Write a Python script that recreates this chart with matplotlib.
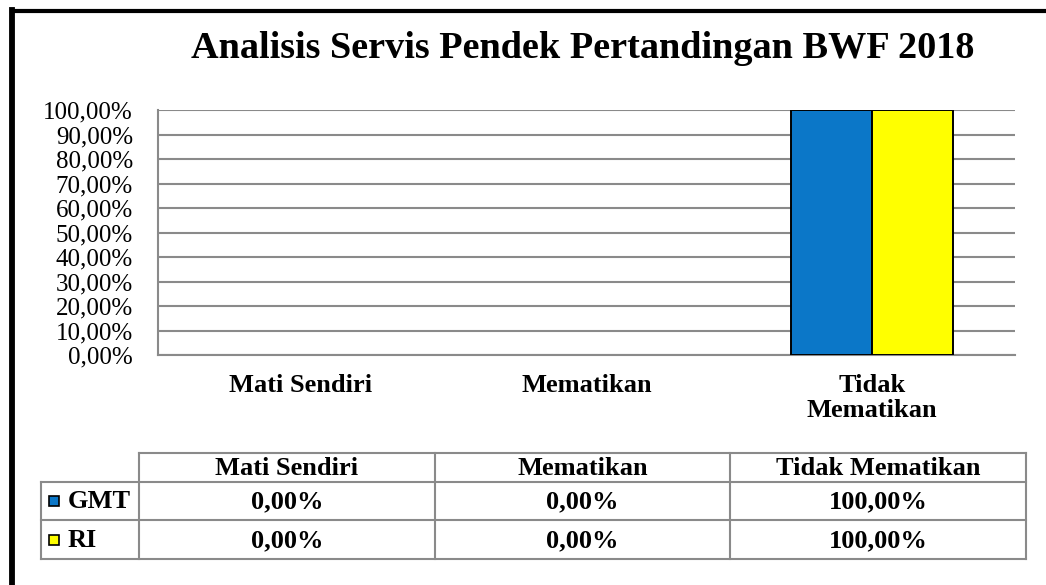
import matplotlib
matplotlib.use("Agg")
import matplotlib.pyplot as plt
from matplotlib.lines import Line2D
from matplotlib.patches import Rectangle
from matplotlib.ticker import FuncFormatter

# data
categories = ["Mati Sendiri", "Mematikan", "Tidak Mematikan"]
tick_labels = ["Mati Sendiri", "Mematikan", "Tidak\nMematikan"]
series = ["GMT", "RI"]
gmt = [0.0, 0.0, 1.0]
ri = [0.0, 0.0, 1.0]
colors = ["#0B77C8", "#FFFF00"]
title = "Analisis Servis Pendek Pertandingan BWF 2018"

plt.rcParams["font.family"] = ["Liberation Serif", "DejaVu Serif"]

W, H = 1046, 585
fig = plt.figure(figsize=(W / 100, H / 100), dpi=100)


def fx(px):
    return px / W


def fy(py):
    return 1 - py / H


def pct(v):
    return f"{v * 100:.2f}%".replace(".", ",")


# plot area in pixel layout
left, right, top, bottom = 158, 1015, 110, 355
ax = fig.add_axes([fx(left), fy(bottom), fx(right - left), (bottom - top) / H])

x = range(len(categories))
bw = 0.284
for i, (vals, c) in enumerate(zip([gmt, ri], colors)):
    # zero-height bars get no outline so they don't leave a line on the axis
    ax.bar([k + (i - 0.5) * bw for k in x], vals, width=bw, color=c,
           edgecolor="black", linewidth=[1.4 if v > 0 else 0 for v in vals], zorder=3)

ax.set_xlim(-0.5, 2.5)
ax.set_ylim(0, 1.0)
ax.set_yticks([i / 10 for i in range(11)])
ax.yaxis.set_major_formatter(FuncFormatter(lambda v, p: pct(v)))
ax.grid(axis="y", color="#8a8a8a", linewidth=1.5, zorder=0)
ax.set_axisbelow(True)
for s in ["top", "right"]:
    ax.spines[s].set_visible(False)
for s in ["left", "bottom"]:
    ax.spines[s].set_color("#8a8a8a")
    ax.spines[s].set_linewidth(1.5)
ax.tick_params(axis="y", length=0, pad=18, labelsize=18)
ax.tick_params(axis="x", length=0, pad=14)
ax.set_xticks(list(x))
ax.set_xticklabels(tick_labels, fontsize=19, fontweight="bold", linespacing=1.1)

fig.text(fx(583), fy(58), title, ha="center", va="baseline",
         fontsize=27.5, fontweight="bold")

# black frame on top and left
fig.add_artist(Line2D([fx(12), fx(12)], [0, fy(10)], color="black", lw=4.2,
                      solid_capstyle="projecting"))
fig.add_artist(Line2D([fx(12), 1], [fy(10.5), fy(10.5)], color="black", lw=3.0))

# data table below the chart
cols = [41, 139, 435, 730, 1026]
rows = [453, 482, 520, 559]
tc = "#8a8a8a"
tlw = 1.5
# header row: only from column 1 on
fig.add_artist(Line2D([fx(cols[1]), fx(cols[-1])], [fy(rows[0])] * 2, color=tc, lw=tlw))
for r in rows[1:]:
    fig.add_artist(Line2D([fx(cols[0]), fx(cols[-1])], [fy(r)] * 2, color=tc, lw=tlw))
fig.add_artist(Line2D([fx(cols[0])] * 2, [fy(rows[1]), fy(rows[-1])], color=tc, lw=tlw))
for c in cols[1:]:
    fig.add_artist(Line2D([fx(c)] * 2, [fy(rows[0]), fy(rows[-1])], color=tc, lw=tlw))

for j, name in enumerate(categories):
    cx = (cols[j + 1] + cols[j + 2]) / 2
    fig.text(fx(cx), fy((rows[0] + rows[1]) / 2 + 1), name, ha="center", va="center",
             fontsize=19, fontweight="bold")

for i, (name, vals, c) in enumerate(zip(series, [gmt, ri], colors)):
    cy = (rows[i + 1] + rows[i + 2]) / 2
    fig.add_artist(Rectangle((fx(48.5), fy(cy + 5)), fx(10), 10 / H, facecolor=c,
                             edgecolor="black", linewidth=1.2, transform=fig.transFigure))
    fig.text(fx(68), fy(cy + 1), name, ha="left", va="center", fontsize=19, fontweight="bold")
    for j, v in enumerate(vals):
        cx = (cols[j + 1] + cols[j + 2]) / 2
        fig.text(fx(cx), fy(cy + 1), pct(v), ha="center",
                 va="center", fontsize=19, fontweight="bold")

fig.savefig("out.png", dpi=100)
